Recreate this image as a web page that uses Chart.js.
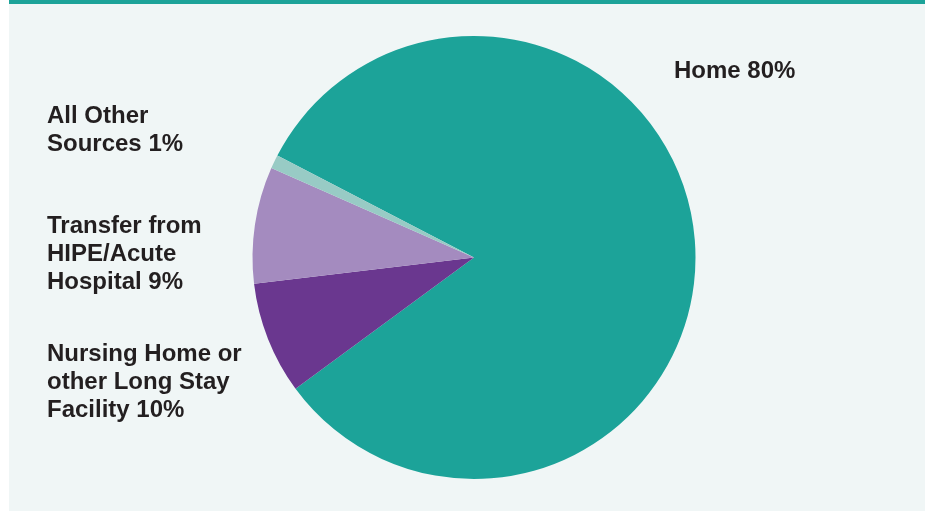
<!DOCTYPE html>
<html>
<head>
<meta charset="utf-8">
<script src="https://cdn.jsdelivr.net/npm/chart.js@4"></script>
<style>
    body { margin: 0; background: #ffffff; }
    .panel {
        position: absolute;
        left: 9px; top: 0;
        width: 916px; height: 507px;
        background: #f0f6f6;
        border-top: 4px solid #1ca399;
    }
    .wrap { position: absolute; left: 0; top: 0; width: 925px; height: 511px; }
</style>
</head>
<body>
<div class="panel"></div>
<div class="wrap"><canvas id="sourceChart"></canvas></div>
<script>
// Source of admission - slices in drawing order (clockwise)
const categories = ['Home', 'Nursing Home or other Long Stay Facility', 'Transfer from HIPE/Acute Hospital', 'All Other Sources'];
const values = [82.3, 8.2, 8.5, 1.0];
const sliceColors = ['#1ca399', '#6a378f', '#a48bbf', '#98cbc5'];

// Label text as printed on the chart
const labelLines = [
    ['Home 80%'],
    ['Nursing Home or', 'other Long Stay', 'Facility 10%'],
    ['Transfer from', 'HIPE/Acute', 'Hospital 9%'],
    ['All Other', 'Sources 1%']
];
const labelPos = [[674, 78], [47, 361], [47, 233], [47, 123]];

const labelPlugin = {
    id: 'sliceLabels',
    afterDraw(chart) {
        const ctx = chart.ctx;
        ctx.save();
        ctx.fillStyle = '#231f20';
        ctx.font = 'bold 24px "Liberation Sans", Arial, sans-serif';
        ctx.textBaseline = 'alphabetic';
        ctx.textAlign = 'left';
        labelLines.forEach((lines, i) => {
            lines.forEach((line, j) => {
                ctx.fillText(line, labelPos[i][0], labelPos[i][1] + j * 28);
            });
        });
        ctx.restore();
    }
};

new Chart(document.getElementById('sourceChart'), {
    type: 'pie',
    data: {
        labels: categories,
        datasets: [{
            data: values,
            backgroundColor: sliceColors,
            borderWidth: 0
        }]
    },
    options: {
        responsive: true,
        maintainAspectRatio: false,
        animation: false,
        rotation: -62.6,
        layout: {
            padding: { left: 252, right: 229, top: 36, bottom: 32 }
        },
        plugins: {
            legend: { display: false },
            tooltip: { enabled: false }
        }
    },
    plugins: [labelPlugin]
});
</script>
</body>
</html>
